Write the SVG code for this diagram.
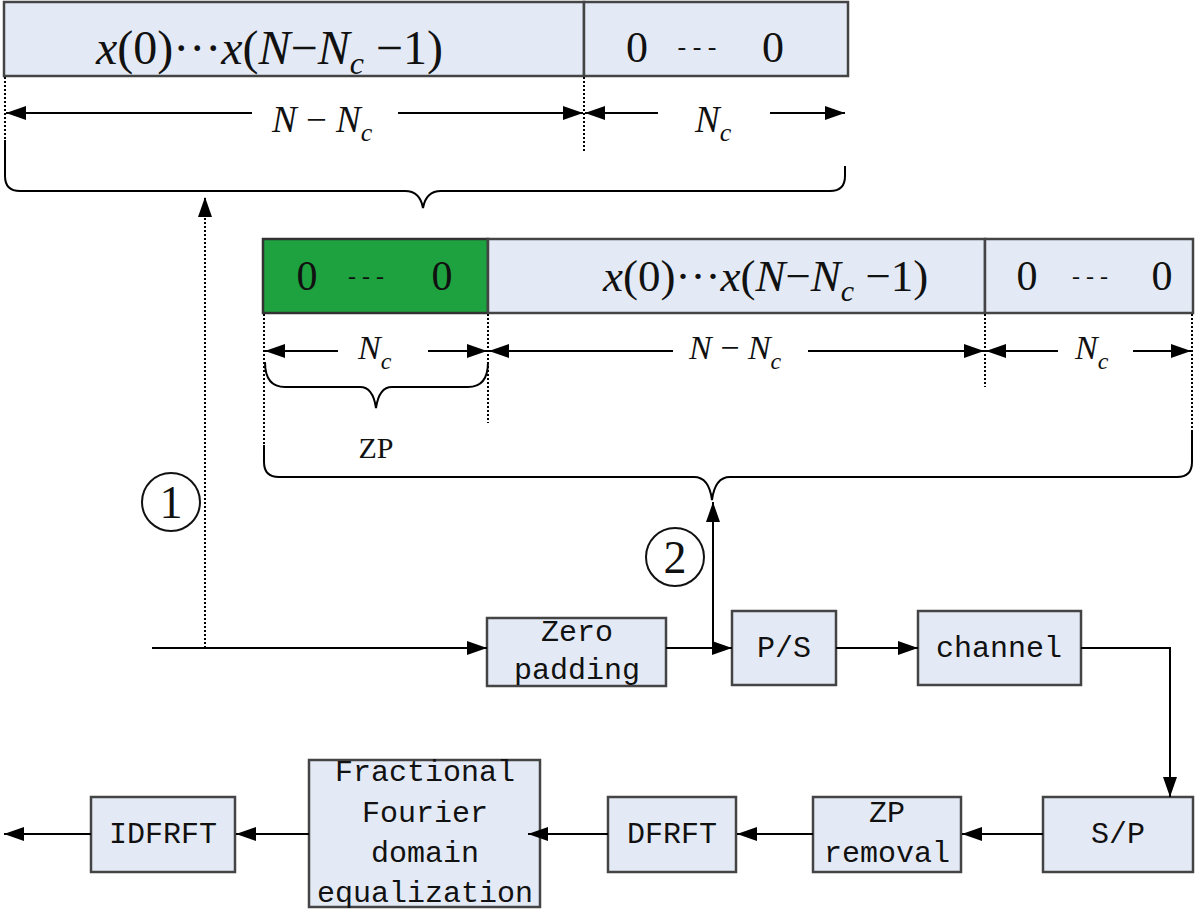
<svg xmlns="http://www.w3.org/2000/svg" width="1200" height="918" viewBox="0 0 1200 918">
<defs>
<marker id="ah" markerUnits="userSpaceOnUse" markerWidth="20" markerHeight="14" refX="20" refY="7" orient="auto">
<path d="M0,0 L20,7 L0,14 z" fill="#000"/>
</marker>
<style>
.cell{fill:#e4eaf5;stroke:#444;stroke-width:2.5}
.green{fill:#1ea23f;stroke:#333;stroke-width:2.5}
.box{fill:#e4eaf5;stroke:#444;stroke-width:2.5}
.ln{stroke:#000;stroke-width:2;fill:none}
.dot{stroke:#000;stroke-width:2;stroke-dasharray:2,2;fill:none}
.m{font-family:"Liberation Serif",serif;fill:#111}
.i{font-style:italic}
.t{font-family:"Liberation Mono",monospace;font-size:30px;fill:#111;text-anchor:middle}
.circ{fill:none;stroke:#111;stroke-width:2}
</style>
</defs>
<rect width="1200" height="918" fill="#fff"/>

<g id="top-frame">
<rect class="cell" x="4" y="2" width="580" height="74"/>
<rect class="cell" x="584" y="2" width="264" height="74"/>
<text class="m" x="96" y="64" font-size="48"><tspan class="i">x</tspan>(0)···<tspan class="i">x</tspan>(<tspan class="i">N</tspan>−<tspan class="i">N</tspan><tspan class="i" font-size="32" dy="10">c</tspan><tspan dy="-10"> −1)</tspan></text>
<text class="m" x="637" y="62" font-size="44" text-anchor="middle">0</text>
<text class="m" x="697" y="55" font-size="26" text-anchor="middle" fill="#333">- - -</text>
<text class="m" x="773" y="62" font-size="44" text-anchor="middle">0</text>
<text class="m" x="272" y="132" font-size="37"><tspan class="i">N</tspan> − <tspan class="i">N</tspan><tspan class="i" font-size="26" dy="9">c</tspan></text>
<text class="m" x="695" y="132" font-size="37"><tspan class="i">N</tspan><tspan class="i" font-size="26" dy="9">c</tspan></text>
</g>

<g id="mid-frame">
<rect class="green" x="263" y="239" width="225" height="74"/>
<rect class="cell" x="488" y="239" width="497" height="74"/>
<rect class="cell" x="985" y="239" width="208" height="74"/>
<text class="m" x="307" y="290" font-size="42" text-anchor="middle">0</text>
<text class="m" x="366" y="284" font-size="24" text-anchor="middle" fill="#222">- - -</text>
<text class="m" x="442" y="290" font-size="42" text-anchor="middle">0</text>
<text class="m" x="603" y="291" font-size="45"><tspan class="i">x</tspan>(0)···<tspan class="i">x</tspan>(<tspan class="i">N</tspan>−<tspan class="i">N</tspan><tspan class="i" font-size="30" dy="10">c</tspan><tspan dy="-10"> −1)</tspan></text>
<text class="m" x="1027" y="290" font-size="42" text-anchor="middle">0</text>
<text class="m" x="1090" y="284" font-size="24" text-anchor="middle" fill="#222">- - -</text>
<text class="m" x="1162" y="290" font-size="42" text-anchor="middle">0</text>
<text class="m" x="358" y="359" font-size="34"><tspan class="i">N</tspan><tspan class="i" font-size="24" dy="10">c</tspan></text>
<text class="m" x="689" y="359" font-size="34"><tspan class="i">N</tspan> − <tspan class="i">N</tspan><tspan class="i" font-size="24" dy="10">c</tspan></text>
<text class="m" x="1075" y="359" font-size="34"><tspan class="i">N</tspan><tspan class="i" font-size="24" dy="10">c</tspan></text>
<text class="m" x="376" y="458" font-size="30" text-anchor="middle">ZP</text>
</g>

<g id="label-1">
<circle class="circ" cx="171" cy="502" r="29"/>
<text class="m" x="171" y="518" font-size="46" text-anchor="middle">1</text>
</g>
<g id="label-2">
<circle class="circ" cx="675" cy="557" r="29"/>
<text class="m" x="675" y="573" font-size="46" text-anchor="middle">2</text>
</g>

<g id="zero-padding"><rect class="box" x="487" y="618" width="179" height="68"/>
<text class="t" x="577" y="641">Zero</text><text class="t" x="577" y="679">padding</text></g>
<g id="ps"><rect class="box" x="732" y="611" width="104" height="74"/>
<text class="t" x="784" y="657">P/S</text></g>
<g id="channel"><rect class="box" x="918" y="611" width="163" height="74"/>
<text class="t" x="999" y="657">channel</text></g>
<g id="sp"><rect class="box" x="1043" y="797" width="150" height="75"/>
<text class="t" x="1118" y="843">S/P</text></g>
<g id="zp-removal"><rect class="box" x="813" y="797" width="148" height="75"/>
<text class="t" x="887" y="822">ZP</text><text class="t" x="887" y="862">removal</text></g>
<g id="dfrft"><rect class="box" x="608" y="797" width="128" height="75"/>
<text class="t" x="672" y="843">DFRFT</text></g>
<g id="fractional"><rect class="box" x="309" y="760" width="231" height="147"/>
<text class="t" x="425" y="781">Fractional</text><text class="t" x="425" y="822">Fourier</text><text class="t" x="425" y="862">domain</text><text class="t" x="425" y="902">equalization</text></g>
<g id="idfrft"><rect class="box" x="91" y="797" width="144" height="75"/>
<text class="t" x="163" y="843">IDFRFT</text></g>

<g id="connectors">
<line class="dot" x1="5" y1="77" x2="5" y2="140"/>
<line class="dot" x1="584" y1="77" x2="584" y2="152"/>
<line class="ln" x1="252" y1="113" x2="6" y2="113" marker-end="url(#ah)"/>
<line class="ln" x1="398" y1="113" x2="583" y2="113" marker-end="url(#ah)"/>
<line class="ln" x1="658" y1="113" x2="585" y2="113" marker-end="url(#ah)"/>
<line class="ln" x1="770" y1="113" x2="845" y2="113" marker-end="url(#ah)"/>
<path class="ln" d="M5,140 V176 Q5,191 20,191 H405 Q420,191 423,208 Q426,191 441,191 H830 Q845,191 845,176 V166"/>
<line class="dot" x1="264" y1="314" x2="264" y2="445"/>
<line class="dot" x1="488" y1="314" x2="488" y2="423"/>
<line class="dot" x1="985" y1="314" x2="985" y2="387"/>
<line class="dot" x1="1192" y1="314" x2="1192" y2="430"/>
<line class="ln" x1="338" y1="351" x2="265" y2="351" marker-end="url(#ah)"/>
<line class="ln" x1="428" y1="351" x2="487" y2="351" marker-end="url(#ah)"/>
<line class="ln" x1="673" y1="351" x2="489" y2="351" marker-end="url(#ah)"/>
<line class="ln" x1="808" y1="351" x2="984" y2="351" marker-end="url(#ah)"/>
<line class="ln" x1="1058" y1="351" x2="986" y2="351" marker-end="url(#ah)"/>
<line class="ln" x1="1133" y1="351" x2="1191" y2="351" marker-end="url(#ah)"/>
<path class="ln" d="M265,362 Q265,387 285,387 H360 Q373,387 376,408 Q379,387 392,387 H468 Q488,387 488,362"/>
<path class="ln" d="M264,445 V462 Q264,477 279,477 H694 Q709,477 712,500 Q715,477 730,477 H1177 Q1192,477 1192,462 V430"/>
<line class="dot" x1="205" y1="648" x2="205" y2="197" marker-end="url(#ah)"/>
<line class="ln" x1="713" y1="648" x2="713" y2="502" marker-end="url(#ah)"/>
<line class="ln" x1="152" y1="648" x2="487" y2="648" marker-end="url(#ah)"/>
<line class="ln" x1="666" y1="648" x2="732" y2="648" marker-end="url(#ah)"/>
<line class="ln" x1="836" y1="648" x2="918" y2="648" marker-end="url(#ah)"/>
<polyline class="ln" points="1081,648 1170,648 1170,797" marker-end="url(#ah)"/>
<line class="ln" x1="1043" y1="834" x2="962" y2="834" marker-end="url(#ah)"/>
<line class="ln" x1="813" y1="834" x2="737" y2="834" marker-end="url(#ah)"/>
<line class="ln" x1="608" y1="834" x2="528" y2="834" marker-end="url(#ah)"/>
<line class="ln" x1="309" y1="834" x2="236" y2="834" marker-end="url(#ah)"/>
<line class="ln" x1="91" y1="834" x2="4" y2="834" marker-end="url(#ah)"/>
</g>
</svg>
